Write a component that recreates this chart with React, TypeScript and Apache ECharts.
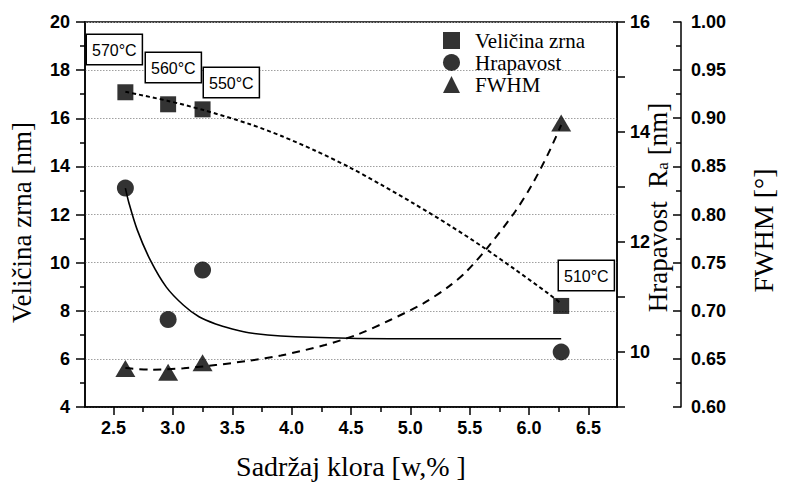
import React, { useEffect, useRef } from "react";
import * as echarts from "echarts";

// ---- data ----
const xMajorTicks = [2.5, 3.0, 3.5, 4.0, 4.5, 5.0, 5.5, 6.0, 6.5];
const xMinorTicks = [2.75, 3.25, 3.75, 4.25, 4.75, 5.25, 5.75, 6.25];

// measured points
const grainPoints: [number, number][] = [
  [2.6, 17.08],
  [2.96, 16.58],
  [3.25, 16.37],
  [6.27, 8.2],
];
const roughPoints: [number, number][] = [
  [2.6, 12.98],
  [2.96, 10.59],
  [3.25, 11.49],
  [6.27, 10.0],
];
const fwhmPoints: [number, number][] = [
  [2.6, 0.64],
  [2.96, 0.636],
  [3.25, 0.646],
  [6.27, 0.895],
];

// fitted curves
const grainFit: [number, number][] = [
  [2.6, 17.1],
  [2.96, 16.72],
  [3.25, 16.35],
  [3.65, 15.75],
  [3.92, 15.25],
  [4.2, 14.65],
  [4.48, 13.98],
  [4.75, 13.25],
  [5.03, 12.45],
  [5.33, 11.55],
  [5.61, 10.65],
  [5.88, 9.72],
  [6.16, 8.72],
  [6.27, 8.3],
];
const roughFit: [number, number][] = [
  [2.6, 12.98],
  [2.63, 12.71],
  [2.7, 12.22],
  [2.81, 11.67],
  [2.945, 11.18],
  [3.09, 10.85],
  [3.22, 10.64],
  [3.36, 10.51],
  [3.5, 10.42],
  [3.64, 10.35],
  [3.91, 10.29],
  [4.48, 10.25],
  [5.3, 10.24],
  [6.27, 10.24],
];
const fwhmFit: [number, number][] = [
  [2.6, 0.6405],
  [2.81, 0.6388],
  [3.09, 0.6402],
  [3.36, 0.6436],
  [3.64, 0.6481],
  [3.91, 0.6535],
  [4.28, 0.6644],
  [4.56, 0.6755],
  [4.83, 0.6904],
  [5.11, 0.7077],
  [5.33, 0.7258],
  [5.47, 0.7405],
  [5.65, 0.7656],
  [5.88, 0.8026],
  [6.02, 0.83],
  [6.16, 0.863],
  [6.27, 0.893],
];

const tempLabels = ["570°C", "560°C", "550°C", "510°C"];

const SANS = "'Liberation Sans', Arial, sans-serif";
const SERIF = "'Liberation Serif', 'Times New Roman', serif";

export default function App() {
  const ref = useRef<HTMLDivElement>(null);

  useEffect(() => {
    if (!ref.current) return;
    const chart = echarts.init(ref.current, undefined, { renderer: "svg" });

    const tickLabel = {
      color: "#000",
      fontFamily: SANS,
      fontWeight: "bold" as const,
      fontSize: 18,
    };
    const axisLine = { show: true, lineStyle: { color: "#000", width: 1.5 } };
    const tickLine = { color: "#000", width: 1.5 };

    const box = (text: string, x: number, y: number) => ({
      type: "text",
      x,
      y,
      z: 100,
      style: {
        text,
        font: `16px ${SANS}`,
        fill: "#000",
        backgroundColor: "#fff",
        borderColor: "#000",
        borderWidth: 1.5,
        padding: [7, 5, 6, 5],
        align: "left",
        verticalAlign: "top",
      },
    });

    chart.setOption({
      animation: false,
      backgroundColor: "#fff",
      grid: {
        left: 82,
        top: 22,
        width: 542,
        height: 385,
        show: true,
        borderColor: "#000",
        borderWidth: 1.5,
        containLabel: false,
      },
      legend: {
        orient: "vertical",
        left: 438,
        top: 25,
        itemWidth: 17,
        itemHeight: 17,
        itemGap: 1,
        textStyle: {
          color: "#000",
          fontFamily: SERIF,
          fontSize: 21,
          padding: [0, 0, 0, 10],
        },
        data: [
          { name: "Veličina zrna", icon: "rect" },
          { name: "Hrapavost", icon: "circle" },
          { name: "FWHM", icon: "triangle" },
        ],
      },
      xAxis: [
        {
          type: "value",
          min: 2.26,
          max: 6.74,
          position: "bottom",
          axisLine,
          axisTick: { show: true, customValues: xMajorTicks, length: 8, lineStyle: tickLine },
          axisLabel: {
            ...tickLabel,
            customValues: xMajorTicks,
            margin: 12,
            formatter: (v: number) => v.toFixed(1),
          },
          splitLine: { show: false },
          name: "Sadržaj klora [w,% ]",
          nameLocation: "middle",
          nameGap: 45,
          nameMoveOverlap: false,
          nameTextStyle: { color: "#000", fontFamily: SERIF, fontSize: 28 },
        },
        {
          type: "value",
          min: 2.26,
          max: 6.74,
          position: "bottom",
          axisLine: { show: false },
          axisTick: { show: true, customValues: xMinorTicks, length: 5, lineStyle: tickLine },
          axisLabel: { show: false },
          splitLine: { show: false },
        },
      ],
      yAxis: [
        {
          type: "value",
          position: "left",
          min: 4,
          max: 20,
          interval: 2,
          axisLine,
          axisTick: { show: true, length: 9, lineStyle: tickLine },
          minorTick: { show: true, splitNumber: 2, length: 5, lineStyle: tickLine },
          axisLabel: { ...tickLabel, margin: 15 },
          splitLine: {
            show: true,
            lineStyle: { color: "#a0a0a0", type: [1.5, 1.5], width: 1 },
          },
          name: "Veličina zrna [nm]",
          nameLocation: "middle",
          nameGap: 50,
          nameRotate: 90,
          nameMoveOverlap: false,
          nameTextStyle: {
            color: "#000",
            fontFamily: SERIF,
            fontSize: 27,
            padding: [0, 16, 0, 0],
          },
        },
        {
          type: "value",
          position: "right",
          min: 9,
          max: 16,
          interval: 1,
          axisLine,
          axisTick: { show: true, length: 8, lineStyle: tickLine },
          axisLabel: {
            ...tickLabel,
            margin: 13,
            formatter: (v: number) => (Math.round(v) % 2 === 0 ? String(Math.round(v)) : ""),
          },
          splitLine: { show: false },
          name: "Hrapavost  R{sub|a} [nm]",
          nameLocation: "middle",
          nameGap: 27,
          nameRotate: 90,
          nameMoveOverlap: false,
          nameTextStyle: {
            color: "#000",
            fontFamily: SERIF,
            fontSize: 27,
            padding: [0, 0, 0, 14],
            rich: {
              sub: {
                fontFamily: SERIF,
                fontSize: 17,
                color: "#000",
                verticalAlign: "bottom",
                padding: [10, 0, 0, 0],
              },
            },
          },
        },
        {
          type: "value",
          position: "right",
          offset: 64,
          min: 0.6,
          max: 1.0,
          interval: 0.05,
          axisLine,
          axisTick: { show: true, inside: true, length: 8, lineStyle: tickLine },
          minorTick: { show: true, splitNumber: 2, length: 5, lineStyle: tickLine },
          axisLabel: {
            ...tickLabel,
            margin: 10,
            formatter: (v: number) => v.toFixed(2),
          },
          splitLine: { show: false },
          name: "FWHM [°]",
          nameLocation: "middle",
          nameGap: 68,
          nameRotate: 90,
          nameMoveOverlap: false,
          nameTextStyle: {
            color: "#000",
            fontFamily: SERIF,
            fontSize: 28,
            padding: [0, 32, 0, 0],
          },
        },
      ],
      series: [
        {
          name: "grainFit",
          type: "line",
          xAxisIndex: 0,
          yAxisIndex: 0,
          data: grainFit,
          smooth: 0.3,
          symbol: "none",
          silent: true,
          lineStyle: { color: "#000", width: 2, type: [4, 3] },
          z: 2,
        },
        {
          name: "roughFit",
          type: "line",
          xAxisIndex: 0,
          yAxisIndex: 1,
          data: roughFit,
          smooth: 0.3,
          symbol: "none",
          silent: true,
          lineStyle: { color: "#000", width: 1.6, type: "solid" },
          z: 2,
        },
        {
          name: "fwhmFit",
          type: "line",
          xAxisIndex: 0,
          yAxisIndex: 2,
          data: fwhmFit,
          smooth: 0.3,
          symbol: "none",
          silent: true,
          lineStyle: { color: "#000", width: 2, type: [8, 6] },
          z: 2,
        },
        {
          name: "Veličina zrna",
          type: "scatter",
          xAxisIndex: 0,
          yAxisIndex: 0,
          data: grainPoints,
          symbol: "rect",
          symbolSize: 16,
          itemStyle: { color: "#000" },
          z: 5,
        },
        {
          name: "Hrapavost",
          type: "scatter",
          xAxisIndex: 0,
          yAxisIndex: 1,
          data: roughPoints,
          symbol: "circle",
          symbolSize: 17,
          itemStyle: { color: "#000" },
          z: 5,
        },
        {
          name: "FWHM",
          type: "scatter",
          xAxisIndex: 0,
          yAxisIndex: 2,
          data: fwhmPoints,
          symbol: "triangle",
          symbolSize: [20, 17],
          itemStyle: { color: "#000" },
          z: 5,
        },
      ],
      graphic: [
        box(tempLabels[0], 87, 35),
        box(tempLabels[1], 146, 53),
        box(tempLabels[2], 204, 68),
        box(tempLabels[3], 559, 261),
      ],
    });

    return () => chart.dispose();
  }, []);

  return (
    <div
      ref={ref}
      style={{ position: "fixed", left: 0, top: 0, width: 785, height: 485, background: "#fff" }}
    />
  );
}
